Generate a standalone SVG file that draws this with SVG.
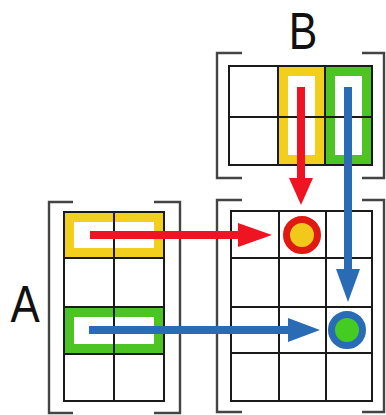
<svg xmlns="http://www.w3.org/2000/svg" width="386" height="415" viewBox="0 0 386 415">
<style>
.grid{fill:none;stroke:#1a1a1a;stroke-width:2}
.br{fill:none;stroke:#444;stroke-width:2.4}
.hy{fill:none;stroke:#f2cf1c;stroke-width:10}
.hg{fill:none;stroke:#4cc423;stroke-width:10}
.lbl{font-family:"Liberation Sans",Arial,sans-serif;font-size:51px;fill:#111}
.red{stroke:#ee1421;stroke-width:8;fill:none}
.blue{stroke:#2a6bb6;stroke-width:8;fill:none}
</style>
<rect width="386" height="415" fill="#fff"/>
<g id="matrixB">
<rect class="hy" x="283" y="71" width="37" height="89"/>
<rect class="hg" x="330" y="71" width="37" height="89"/>
<path class="grid" d="M229 66H372V165H229Z M278 66V165 M325 66V165 M229 117H372"/>
<path class="br" d="M242 53H217V178H242 M362 53H384V178H362"/>
<text class="lbl" transform="translate(303 49) scale(0.84 1)" text-anchor="middle">B</text>
</g>
<g id="matrixA">
<rect class="hy" x="69" y="217" width="90" height="36"/>
<rect class="hg" x="69" y="312" width="90" height="37"/>
<path class="grid" d="M64 212H164V401H64Z M114 212V401 M64 258H164 M64 307H164 M64 354H164"/>
<path class="br" d="M73 202H49V413H73 M154 202H180V413H154"/>
<text class="lbl" transform="translate(25 322) scale(0.86 1)" text-anchor="middle">A</text>
</g>
<g id="matrixC">
<path class="grid" d="M231 211H372V401H231Z M279 211V401 M326 211V401 M231 258H372 M231 307H372 M231 353H372"/>
<path class="br" d="M242 200H217V412H242 M362 200H384V412H362"/>
</g>
<g id="result1">
<circle cx="302" cy="235" r="15.5" fill="#f1c91b" stroke="#e01a12" stroke-width="7"/>
</g>
<g id="result2">
<circle cx="347" cy="330" r="15.5" fill="#45cc22" stroke="#2a6bb6" stroke-width="7"/>
</g>
<g id="connectors">
<path class="red" d="M90 235H240"/>
<path d="M238 223L272 235L238 247Z" fill="#ee1421"/>
<path class="red" d="M301 87V180"/>
<path d="M289 178L301 205L313 178Z" fill="#ee1421"/>
<path class="blue" d="M348 87V272"/>
<path d="M336 269L348 302L360 269Z" fill="#2a6bb6"/>
<path class="blue" d="M89 330H290"/>
<path d="M288 318L320 330L288 342Z" fill="#2a6bb6"/>
</g>
</svg>
